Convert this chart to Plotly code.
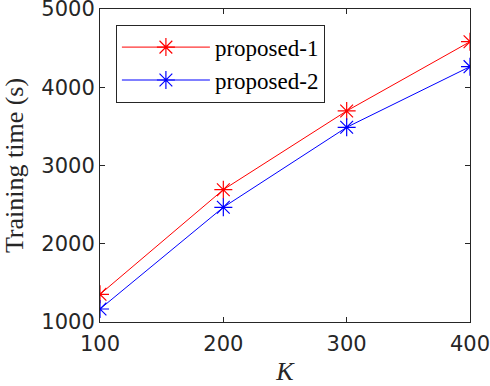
import plotly.graph_objects as go

# data
K = [100, 200, 300, 400]
proposed_1 = [1354, 2691, 3697, 4582]
proposed_2 = [1166, 2466, 3488, 4263]

axis_col = "#262626"
serif = "Liberation Serif, DejaVu Serif, serif"
sans = "DejaVu Sans, Liberation Sans, sans-serif"

fig = go.Figure()
fig.add_trace(go.Scatter(x=K, y=proposed_1, name="proposed-1", mode="lines+markers",
                         line=dict(color="#ff0000", width=1),
                         marker=dict(symbol="asterisk-open", size=15,
                                     line=dict(color="#ff0000", width=1.2))))
fig.add_trace(go.Scatter(x=K, y=proposed_2, name="proposed-2", mode="lines+markers",
                         line=dict(color="#0000ff", width=1),
                         marker=dict(symbol="asterisk-open", size=15,
                                     line=dict(color="#0000ff", width=1.2))))

axis_common = dict(showgrid=False, zeroline=False, showline=True, linecolor=axis_col,
                   linewidth=1, mirror="ticks", ticks="inside", ticklen=5,
                   tickcolor=axis_col, automargin=False, ticklabeloverflow="allow",
                   tickfont=dict(family=sans, size=21, color=axis_col))

fig.update_layout(
    width=490, height=386,
    margin=dict(l=100, r=20, t=9, b=64),
    plot_bgcolor="white", paper_bgcolor="white",
    xaxis=dict(range=[100, 400], tickvals=[100, 200, 300, 400], ticklabelstandoff=3,
               title=dict(text="<i>K</i>", font=dict(family=serif, size=26, color=axis_col),
                          standoff=8),
               **axis_common),
    yaxis=dict(range=[1000, 5000], tickvals=[1000, 2000, 3000, 4000, 5000],
               title=dict(text="Training time (s)", font=dict(family=serif, size=26, color=axis_col),
                          standoff=14),
               **axis_common),
    legend=dict(x=0.043, y=0.95, xanchor="left", yanchor="top",
                bgcolor="white", bordercolor=axis_col, borderwidth=1,
                font=dict(family=serif, size=23, color="black"),
                itemwidth=88, tracegroupgap=0),
    showlegend=True,
)

# drop the page's default body margin so the figure sits at the window's corner
fig.write_html("out.html", config={"displayModeBar": False},
               post_script="document.body.style.margin='0';")
